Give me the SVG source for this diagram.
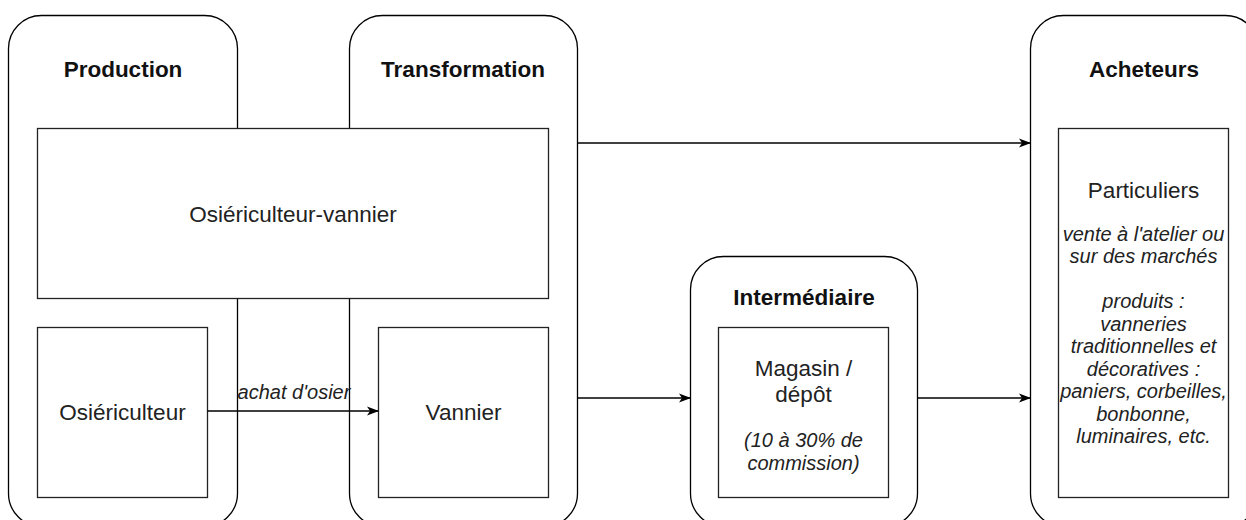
<svg xmlns="http://www.w3.org/2000/svg" width="1246" height="520" viewBox="0 0 1246 520">
<style>
.cont{fill:#fff;stroke:#000;stroke-width:1.3}
.box{fill:#fff;stroke:#222;stroke-width:1.3}
.hdr{font-weight:bold;font-size:22.5px;fill:#111;text-anchor:middle}
.txt{font-size:22.5px;fill:#222;text-anchor:middle}
.it{font-style:italic;font-size:20px;fill:#222;text-anchor:middle}
.edge{fill:none;stroke:#000;stroke-width:1.3}
</style>
<defs>
<marker id="arr" viewBox="0 0 12 10" refX="11" refY="5" markerWidth="12" markerHeight="10" markerUnits="userSpaceOnUse" orient="auto">
<path d="M0,0.5 L12,5 L0,9.5 L3,5 Z" fill="#000"/>
</marker>
</defs>
<rect width="1246" height="520" fill="#fff"/>
<g font-family="'Liberation Sans', Arial, Helvetica, sans-serif">
<g id="production">
<rect class="cont" x="8.5" y="15.5" width="229" height="511" rx="33" ry="33"/>
<text class="hdr" x="123" y="77">Production</text>
</g>
<g id="transformation">
<rect class="cont" x="349.5" y="15.5" width="228" height="511" rx="33" ry="33"/>
<text class="hdr" x="463" y="77">Transformation</text>
</g>
<g id="intermediaire">
<rect class="cont" x="690.5" y="256.5" width="227" height="270" rx="33" ry="33"/>
<text class="hdr" x="804" y="305">Intermédiaire</text>
</g>
<g id="acheteurs">
<rect class="cont" x="1030.5" y="15.5" width="228" height="511" rx="33" ry="33"/>
<text class="hdr" x="1144" y="77">Acheteurs</text>
</g>
<g id="osiericulteur-vannier">
<rect class="box" x="37.5" y="128.5" width="511" height="170"/>
<text class="txt" x="293" y="222">Osiériculteur-vannier</text>
</g>
<g id="osiericulteur">
<rect class="box" x="37.5" y="327.5" width="170" height="170"/>
<text class="txt" x="122.5" y="420">Osiériculteur</text>
</g>
<g id="vannier">
<rect class="box" x="378.5" y="327.5" width="170" height="170"/>
<text class="txt" x="463.5" y="420">Vannier</text>
</g>
<g id="magasin">
<rect class="box" x="718.5" y="327.5" width="170" height="170"/>
<text class="txt" x="803.5" y="376">Magasin /</text>
<text class="txt" x="803.5" y="402">dépôt</text>
<text class="it" x="803.5" y="447">(10 à 30% de</text>
<text class="it" x="803.5" y="470">commission)</text>
</g>
<g id="particuliers">
<rect class="box" x="1058.5" y="128.5" width="170" height="369"/>
<text class="txt" x="1143.5" y="198">Particuliers</text>
<text class="it" x="1143.5" y="240.5">vente à l'atelier ou</text>
<text class="it" x="1143.5" y="263">sur des marchés</text>
<text class="it" x="1143.5" y="308">produits :</text>
<text class="it" x="1143.5" y="330.5">vanneries</text>
<text class="it" x="1143.5" y="353">traditionnelles et</text>
<text class="it" x="1143.5" y="375.5">décoratives :</text>
<text class="it" x="1143.5" y="398">paniers, corbeilles,</text>
<text class="it" x="1143.5" y="420.5">bonbonne,</text>
<text class="it" x="1143.5" y="443">luminaires, etc.</text>
</g>
<g id="connectors">
<line class="edge" x1="577.5" y1="143" x2="1030" y2="143" marker-end="url(#arr)"/>
<line class="edge" x1="207.5" y1="411" x2="378" y2="411" marker-end="url(#arr)"/>
<text class="it" x="294" y="399">achat d'osier</text>
<line class="edge" x1="577.5" y1="398" x2="690" y2="398" marker-end="url(#arr)"/>
<line class="edge" x1="917.5" y1="398" x2="1030" y2="398" marker-end="url(#arr)"/>
</g>
</g>
</svg>
